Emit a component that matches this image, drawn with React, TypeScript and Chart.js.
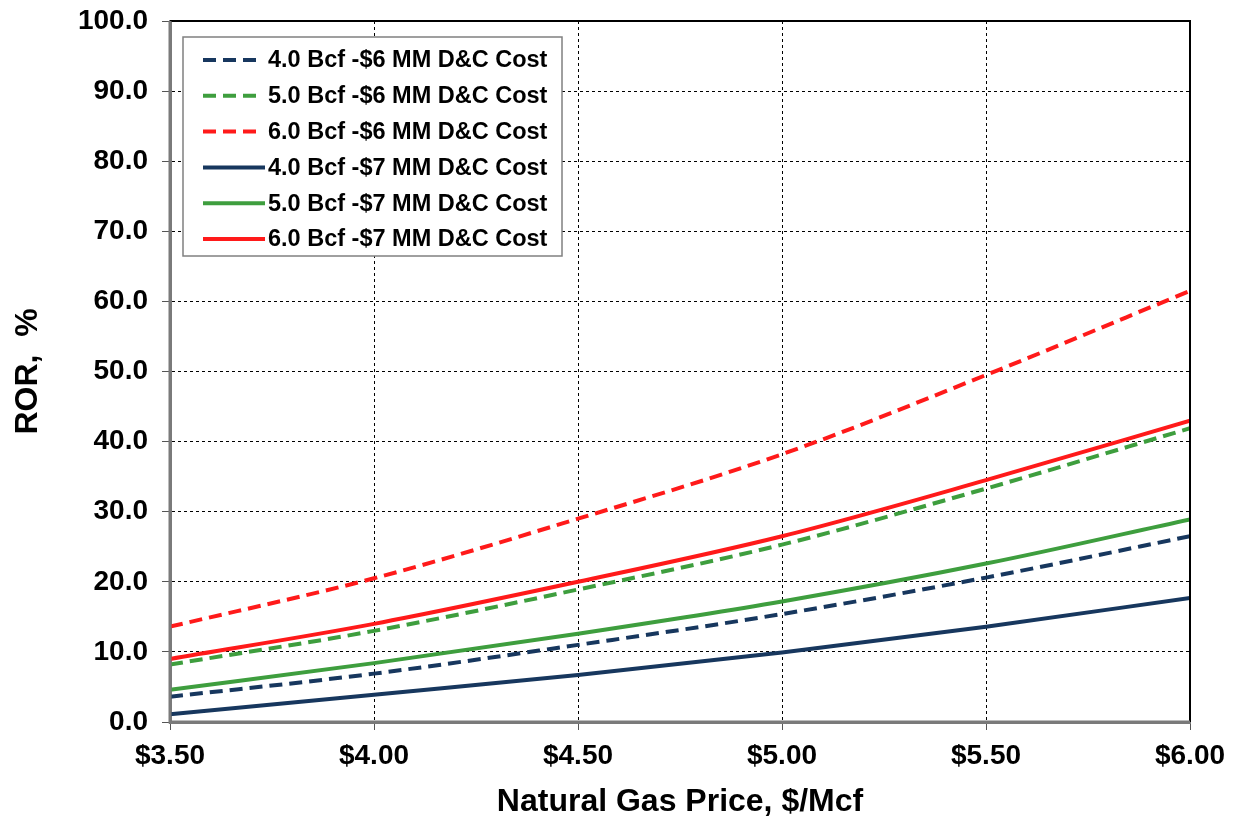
import React, { useEffect, useRef } from "react";
import { Chart, registerables } from "chart.js";

Chart.register(...registerables);

const prices = [3.5, 4.0, 4.5, 5.0, 5.5, 6.0];
const ror4Bcf6MM = [3.6, 6.9, 11.0, 15.4, 20.6, 26.5];
const ror5Bcf6MM = [8.2, 13.0, 18.9, 25.3, 33.3, 41.9];
const ror6Bcf6MM = [13.6, 20.5, 29.0, 38.2, 49.5, 61.5];
const ror4Bcf7MM = [1.1, 3.9, 6.7, 9.9, 13.6, 17.7];
const ror5Bcf7MM = [4.6, 8.4, 12.6, 17.2, 22.6, 28.9];
const ror6Bcf7MM = [9.0, 14.0, 20.0, 26.5, 34.5, 43.0];

const seriesLabels = [
  "4.0 Bcf -$6 MM D&C Cost",
  "5.0 Bcf -$6 MM D&C Cost",
  "6.0 Bcf -$6 MM D&C Cost",
  "4.0 Bcf -$7 MM D&C Cost",
  "5.0 Bcf -$7 MM D&C Cost",
  "6.0 Bcf -$7 MM D&C Cost",
];

const NAVY = "#17375e";
const GREEN = "#3e9e3e";
const RED = "#ff1a1a";
const DASH = [13, 7];

const yTitle = "ROR,  %";
const xTitle = "Natural Gas Price, $/Mcf";

const TICK_FONT = { family: "'Liberation Sans', Arial, sans-serif", size: 28, weight: "bold" as const };
const TITLE_FONT = { family: "'Liberation Sans', Arial, sans-serif", size: 32, weight: "bold" as const };

const framePlugin = {
  id: "frame",
  afterDatasetsDraw(chart: any) {
    const { ctx, chartArea } = chart;
    const { left, right, top, bottom } = chartArea;
    ctx.save();
    ctx.strokeStyle = "#000";
    ctx.lineWidth = 2;
    ctx.beginPath();
    ctx.moveTo(left, top);
    ctx.lineTo(right, top);
    ctx.lineTo(right, bottom);
    ctx.stroke();
    ctx.strokeStyle = "#7a7a7a";
    ctx.lineWidth = 3;
    ctx.beginPath();
    ctx.moveTo(left, top);
    ctx.lineTo(left, bottom);
    ctx.lineTo(right, bottom);
    ctx.stroke();
    ctx.restore();
  },
};

const legendPlugin = {
  id: "boxLegend",
  afterDraw(chart: any) {
    const { ctx, chartArea } = chart;
    const bx = chartArea.left + 13;
    const by = chartArea.top + 16;
    const bw = 379;
    const bh = 219;
    ctx.save();
    ctx.fillStyle = "#fff";
    ctx.fillRect(bx, by, bw, bh);
    ctx.strokeStyle = "#808080";
    ctx.lineWidth = 1.5;
    ctx.strokeRect(bx, by, bw, bh);
    const rowH = 35.8;
    const y0 = by + 23;
    ctx.font = "bold 23.5px 'Liberation Sans', Arial, sans-serif";
    ctx.textBaseline = "middle";
    chart.data.datasets.forEach((ds: any, i: number) => {
      const y = y0 + i * rowH;
      ctx.strokeStyle = ds.borderColor;
      ctx.lineWidth = 4;
      const dashed = ds.borderDash && ds.borderDash.length > 0;
      ctx.setLineDash(dashed ? DASH : []);
      ctx.beginPath();
      ctx.moveTo(bx + 20, y);
      ctx.lineTo(bx + (dashed ? 73 : 82), y);
      ctx.stroke();
      ctx.setLineDash([]);
      ctx.fillStyle = "#000";
      ctx.fillText(ds.label, bx + 85, y + 1);
    });
    ctx.restore();
  },
};

function makeDataset(label: string, values: number[], color: string, dashed: boolean) {
  return {
    label,
    data: prices.map((p, i) => ({ x: p, y: values[i] })),
    borderColor: color,
    backgroundColor: color,
    borderWidth: 4,
    borderDash: dashed ? DASH : [],
    pointRadius: 0,
    cubicInterpolationMode: "monotone" as const,
    fill: false,
  };
}

export default function App() {
  const ref = useRef<HTMLCanvasElement | null>(null);
  useEffect(() => {
    if (!ref.current) return;
    const chart = new Chart(ref.current, {
      type: "line",
      data: {
        datasets: [
          makeDataset(seriesLabels[0], ror4Bcf6MM, NAVY, true),
          makeDataset(seriesLabels[1], ror5Bcf6MM, GREEN, true),
          makeDataset(seriesLabels[2], ror6Bcf6MM, RED, true),
          makeDataset(seriesLabels[3], ror4Bcf7MM, NAVY, false),
          makeDataset(seriesLabels[4], ror5Bcf7MM, GREEN, false),
          makeDataset(seriesLabels[5], ror6Bcf7MM, RED, false),
        ],
      },
      options: {
        animation: false,
        responsive: true,
        maintainAspectRatio: false,
        layout: { padding: { top: 21, right: 46, left: 0, bottom: 0 } },
        plugins: {
          legend: { display: false },
          tooltip: { enabled: false },
        },
        scales: {
          x: {
            type: "linear",
            min: 3.5,
            max: 6.0,
            ticks: {
              stepSize: 0.5,
              color: "#000",
              font: TICK_FONT,
              padding: 9,
              maxRotation: 0,
              callback: (v: any) => "$" + Number(v).toFixed(2),
            },
            grid: {
              color: "#000",
              lineWidth: 1,
              tickLength: 8,
              tickColor: "#555",
              tickBorderDash: [],
            },
            border: { display: true, color: "#7a7a7a", width: 3, dash: [3, 3] },
            title: {
              display: true,
              text: xTitle,
              color: "#000",
              font: TITLE_FONT,
              padding: { top: 0, bottom: 2 },
            },
            afterFit: (scale: any) => {
              scale.height = 101;
              scale.paddingLeft = 0;
              scale.paddingRight = 0;
            },
          },
          y: {
            min: 0,
            max: 100,
            ticks: {
              stepSize: 10,
              color: "#000",
              font: TICK_FONT,
              padding: 14,
              callback: (v: any) => Number(v).toFixed(1),
            },
            grid: {
              color: "#000",
              lineWidth: 1,
              tickLength: 8,
              tickColor: "#555",
              tickBorderDash: [],
            },
            border: { display: true, color: "#7a7a7a", width: 3, dash: [3, 3] },
            title: {
              display: true,
              text: yTitle,
              color: "#000",
              font: TITLE_FONT,
              padding: { top: 9, bottom: 0 },
            },
            afterFit: (scale: any) => {
              scale.width = 170;
              scale.paddingTop = 0;
              scale.paddingBottom = 0;
            },
          },
        },
      },
      plugins: [framePlugin, legendPlugin],
    });
    return () => chart.destroy();
  }, []);
  return (
    <div style={{ position: "fixed", left: 0, top: 0, width: 1236, height: 823, background: "#fff" }}>
      <canvas ref={ref} />
    </div>
  );
}
